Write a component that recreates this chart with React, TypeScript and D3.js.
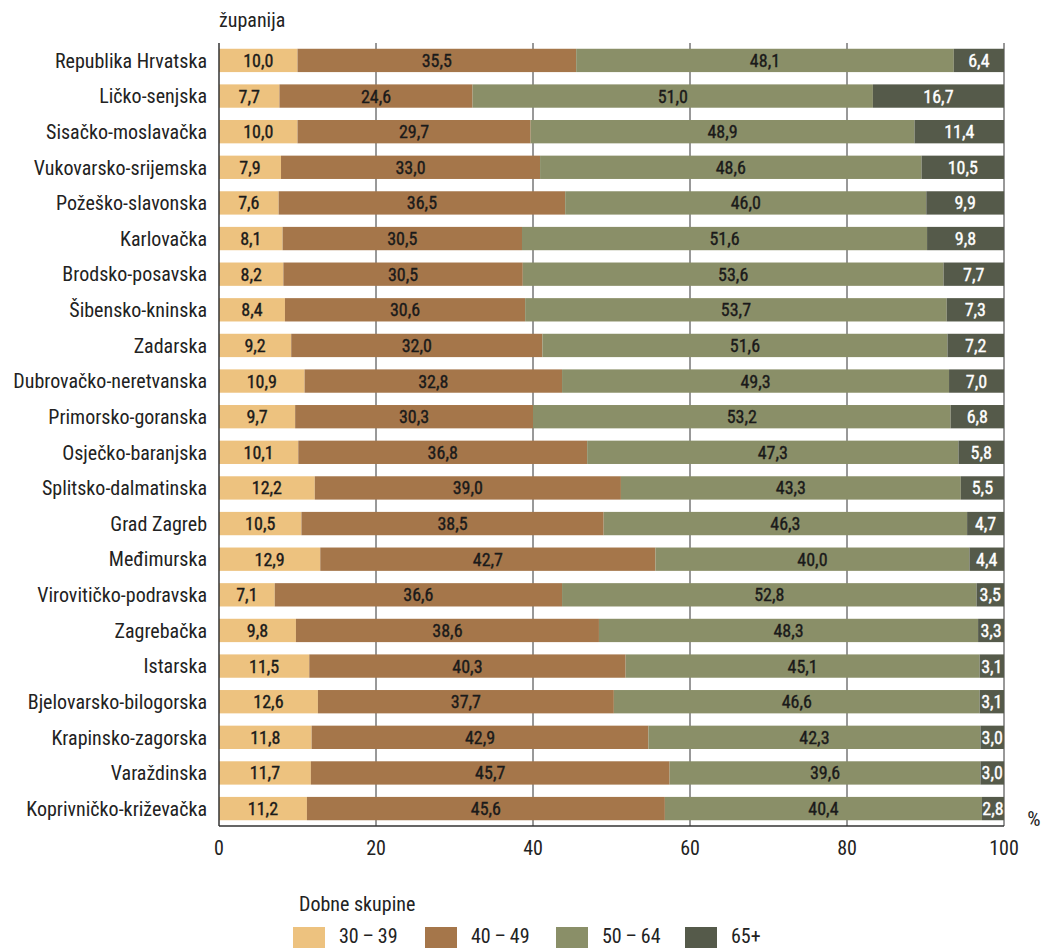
import React from "react";
import * as d3 from "d3";

const categories = [
  "Republika Hrvatska", "Ličko-senjska", "Sisačko-moslavačka", "Vukovarsko-srijemska",
  "Požeško-slavonska", "Karlovačka", "Brodsko-posavska", "Šibensko-kninska", "Zadarska",
  "Dubrovačko-neretvanska", "Primorsko-goranska", "Osječko-baranjska", "Splitsko-dalmatinska",
  "Grad Zagreb", "Međimurska", "Virovitičko-podravska", "Zagrebačka", "Istarska",
  "Bjelovarsko-bilogorska", "Krapinsko-zagorska", "Varaždinska", "Koprivničko-križevačka",
];
const s30_39 = [10.0, 7.7, 10.0, 7.9, 7.6, 8.1, 8.2, 8.4, 9.2, 10.9, 9.7, 10.1, 12.2, 10.5, 12.9, 7.1, 9.8, 11.5, 12.6, 11.8, 11.7, 11.2];
const s40_49 = [35.5, 24.6, 29.7, 33.0, 36.5, 30.5, 30.5, 30.6, 32.0, 32.8, 30.3, 36.8, 39.0, 38.5, 42.7, 36.6, 38.6, 40.3, 37.7, 42.9, 45.7, 45.6];
const s50_64 = [48.1, 51.0, 48.9, 48.6, 46.0, 51.6, 53.6, 53.7, 51.6, 49.3, 53.2, 47.3, 43.3, 46.3, 40.0, 52.8, 48.3, 45.1, 46.6, 42.3, 39.6, 40.4];
const s65 = [6.4, 16.7, 11.4, 10.5, 9.9, 9.8, 7.7, 7.3, 7.2, 7.0, 6.8, 5.8, 5.5, 4.7, 4.4, 3.5, 3.3, 3.1, 3.1, 3.0, 3.0, 2.8];
const seriesNames = ["30\u2009–\u200939", "40\u2009–\u200949", "50\u2009–\u200964", "65+"];
const seriesColors = ["#EDC27F", "#A5764A", "#8A8F68", "#555A4A"];
const xTicks = [0, 20, 40, 60, 80, 100];

const FONT = "'Liberation Sans Narrow', 'Arial Narrow', 'Roboto Condensed', sans-serif";

export default function App() {
  const W = 1042, H = 948;
  const x0 = 219, x1 = 1004;
  const yTop = 43, yBottom = 826;
  const x = d3.scaleLinear().domain([0, 100]).range([x0, x1]);
  const y = d3.scaleBand().domain(categories).range([42.7, 826.3]).paddingInner(0.345).paddingOuter(0.17);
  const series = [s30_39, s40_49, s50_64, s65];
  const bh = y.bandwidth();

  return (
    <svg width={W} height={H} style={{ position: "absolute", left: 0, top: 0, background: "#fff" }} fontFamily={FONT}>
      {xTicks.slice(1).map((t) => (
        <line key={t} x1={x(t)} x2={x(t)} y1={yTop} y2={yBottom} stroke="#333" strokeWidth={1} />
      ))}
      {categories.map((c, i) => {
        let cum = 0;
        return (
          <g key={c}>
            {series.map((s, k) => {
              const v = s[i];
              const start = cum;
              cum += v;
              const end = k === series.length - 1 ? 100 : cum;
              const xa = x(start), xb = x(end);
              return (
                <g key={k}>
                  <rect x={xa} y={y(c)} width={xb - xa} height={bh} fill={seriesColors[k]} />
                  <text
                    x={(xa + xb) / 2}
                    y={y(c)! + bh / 2}
                    dy="0.36em"
                    textAnchor="middle"
                    fontSize={18}
                    fontWeight={400}
                    fill={k === 3 ? "#fff" : "#1a1a1a"}
                    stroke={k === 3 ? "#fff" : "#1a1a1a"}
                    strokeWidth={0.35}
                  >
                    {v.toFixed(1).replace(".", ",")}
                  </text>
                </g>
              );
            })}
            <text x={207} y={y(c)! + bh / 2} dy="0.36em" textAnchor="end" fontSize={20} fill="#222">
              {c}
            </text>
          </g>
        );
      })}
      <line x1={x0} x2={x0} y1={yTop} y2={yBottom} stroke="#333" strokeWidth={1.5} />
      <line x1={x0} x2={x1} y1={yBottom} y2={yBottom} stroke="#333" strokeWidth={1.5} />
      {xTicks.map((t) => (
        <text key={t} x={x(t)} y={848} dy="0.36em" textAnchor="middle" fontSize={20} fill="#222">
          {t}
        </text>
      ))}
      <text x={1034} y={818} dy="0.36em" textAnchor="middle" fontSize={21} fill="#222">%</text>
      <text x={219} y={20} dy="0.36em" textAnchor="start" fontSize={20} fill="#222">županija</text>
      <text x={299} y={904} dy="0.36em" fontSize={20} fill="#222">Dobne skupine</text>
      {seriesNames.map((n, k) => {
        const lx = [293, 425, 556, 685][k];
        return (
          <g key={n}>
            <rect x={lx} y={927} width={32} height={21} fill={seriesColors[k]} />
            <text x={lx + 46} y={936} dy="0.36em" fontSize={20} fill="#222">{n}</text>
          </g>
        );
      })}
    </svg>
  );
}
